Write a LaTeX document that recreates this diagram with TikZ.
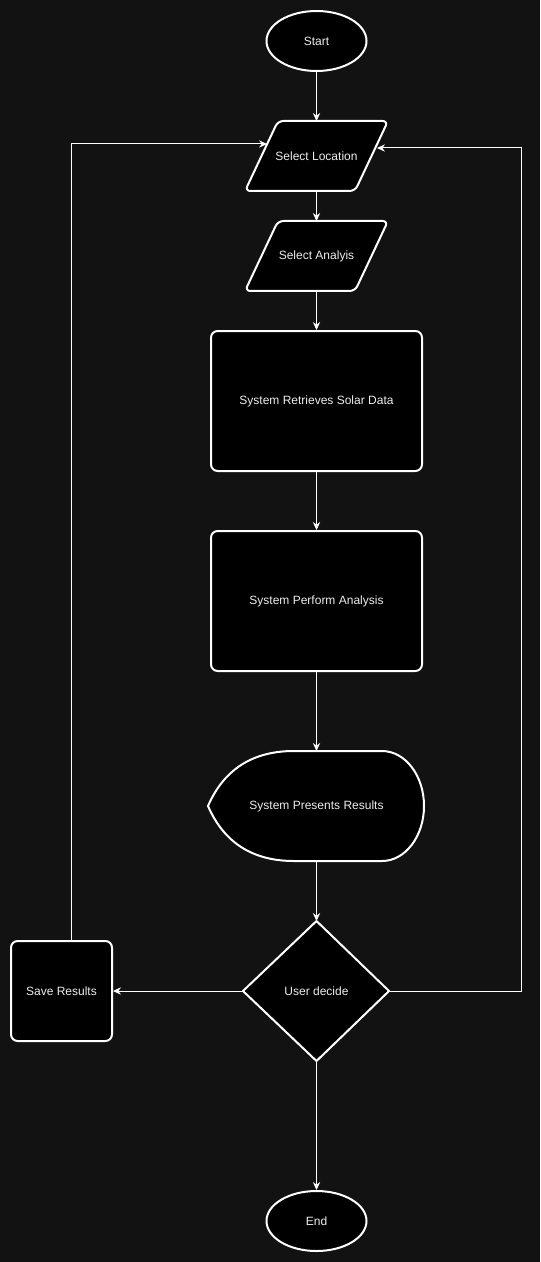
\documentclass[tikz,border=0pt]{standalone}
\usepackage{fontspec}
\setmainfont{Liberation Sans}
\usetikzlibrary{arrows.meta,shapes.geometric}
\definecolor{bg}{HTML}{121212}
\definecolor{txt}{HTML}{EDEDED}
\begin{document}
\begin{tikzpicture}[x=0.75pt,y=-0.75pt,
  shapebox/.style={draw=white,fill=black,line width=1.5pt,line join=round},
  roundbox/.style={shapebox,rectangle,rounded corners=5pt,inner sep=0pt},
  ovalbox/.style={shapebox,ellipse,inner sep=0pt,minimum width=75pt,minimum height=45pt},
  lbl/.style={text=txt,font=\fontsize{9pt}{11pt}\selectfont,inner sep=0pt},
  conn/.style={draw=white,line width=0.75pt,-{Stealth[length=6pt,width=5.5pt,inset=2pt]}},
  line/.style={draw=white,line width=0.75pt}]
\fill[bg] (0,0) rectangle (540,1262);
\useasboundingbox (0,0) rectangle (540,1262);

% Start
\node[ovalbox,lbl] (start) at (316.5,41) {Start};
% Select Location
\draw[shapebox,rounded corners=4pt] (278,121) -- (388,121) -- (355,191) -- (245,191) -- cycle;
\node[lbl] (sloc) at (316.5,156) {Select Location};
\coordinate (slocN) at (316.5,121);
\coordinate (slocS) at (316.5,191);
\coordinate (slocW) at (267,144);
\coordinate (slocE) at (377,148);
% Select Analysis
\draw[shapebox,rounded corners=4pt] (278,221) -- (388,221) -- (355,291) -- (245,291) -- cycle;
\node[lbl] (sana) at (316.5,256) {Select Analyis};
\coordinate (sanaN) at (316.5,221);
\coordinate (sanaS) at (316.5,291);
% Retrieves
\node[roundbox,minimum width=158.25pt,minimum height=105pt,lbl] (ret) at (316.5,401) {System Retrieves Solar Data};
% Perform
\node[roundbox,minimum width=158.25pt,minimum height=105pt,lbl] (perf) at (316.5,601) {System Perform Analysis};
% Display
\draw[shapebox] (294,751) -- (382,751) arc[start angle=-90,end angle=90,x radius=42,y radius=55]
  -- (294,861) .. controls (252.7,861) and (224,842.7) .. (208,806)
  .. controls (224,769.3) and (252.7,751) .. cycle;
\node[lbl] (disp) at (316.5,806) {System Presents Results};
\coordinate (dispN) at (316.5,751);
\coordinate (dispS) at (316.5,861);
% Decision
\draw[shapebox] (316.5,921) -- (389,991) -- (316.5,1061) -- (243,991) -- cycle;
\node[lbl] (dec) at (316.5,991) {User decide};
\coordinate (decN) at (316.5,921);
\coordinate (decS) at (316.5,1061);
\coordinate (decE) at (389,991);
\coordinate (decW) at (243,991);
% Save
\node[roundbox,minimum width=75.75pt,minimum height=75pt,lbl] (save) at (61.5,991) {Save Results};
\coordinate (saveN) at (71.5,941);
% End
\node[ovalbox,lbl] (end) at (316.5,1221) {End};

% connectors
\draw[conn] (start.south) -- (slocN);
\draw[conn] (slocS) -- (sanaN);
\draw[conn] (sanaS) -- (ret.north);
\draw[conn] (ret.south) -- (perf.north);
\draw[conn] (perf.south) -- (dispN);
\draw[conn] (dispS) -- (decN);
\draw[conn] (decS) -- (end.north);
\draw[conn] (decW) -- (save.east);
\coordinate (rc1) at (521.5,991);
\coordinate (rc2) at (521.5,148);
\draw[conn] (decE) -- (rc1) -- (rc2) -- (slocE);
\coordinate (lc1) at (71.5,144);
\draw[conn] (saveN) -- (lc1) -- (slocW);
\end{tikzpicture}
\end{document}
